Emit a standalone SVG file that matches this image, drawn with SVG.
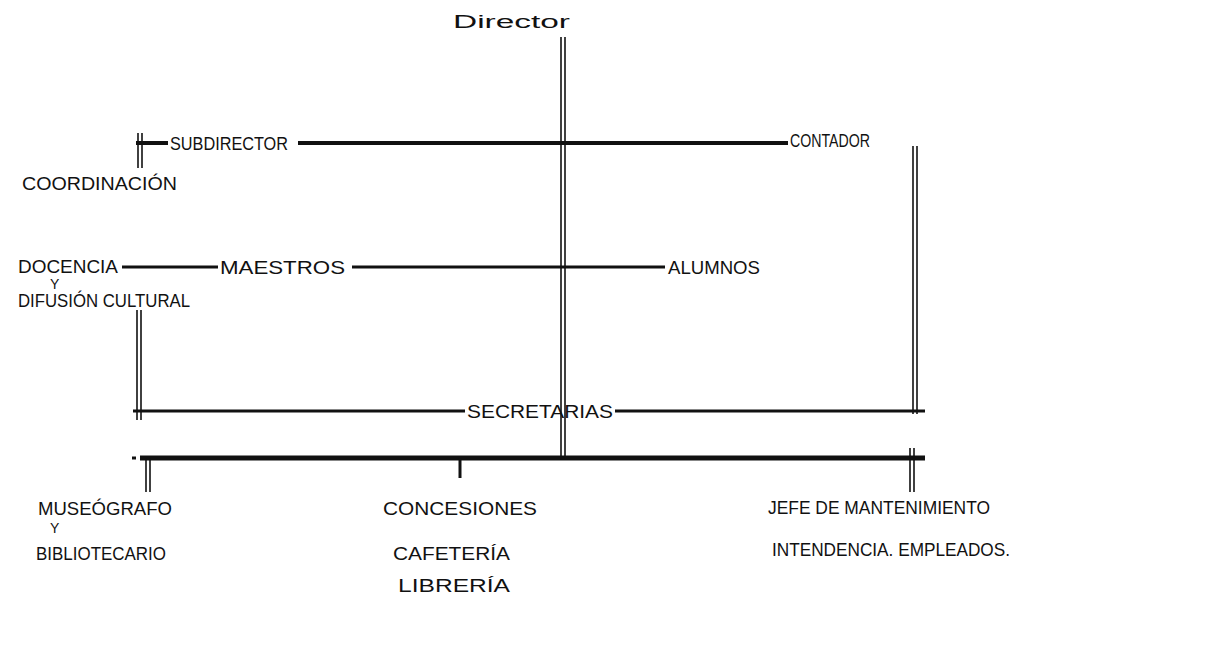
<svg xmlns="http://www.w3.org/2000/svg" width="1216" height="655" viewBox="0 0 1216 655">
<style>
.t{font-family:"Liberation Sans","DejaVu Sans",sans-serif;font-size:18px;fill:#111;}
.s{font-size:14px;}
.h{stroke:#111;fill:none;stroke-linecap:butt;}
.thick{stroke-width:4;}
.mid{stroke-width:3;}
.thin{stroke-width:1.6;}
</style>
<rect width="1216" height="655" fill="#fff"/>
<g id="connectors" class="h">
  <!-- trunk -->
  <line class="thin" x1="561" y1="37" x2="561" y2="458"/>
  <line class="thin" x1="565" y1="37" x2="565" y2="458"/>
  <!-- subdirector row -->
  <line class="thin" x1="138" y1="133" x2="138" y2="168"/>
  <line class="thin" x1="142" y1="133" x2="142" y2="168"/>
  <line class="thick" x1="136" y1="143" x2="168" y2="143"/>
  <line class="thick" x1="298" y1="143" x2="788" y2="143"/>
  <!-- right vertical -->
  <line class="thin" x1="913" y1="146" x2="913" y2="414"/>
  <line class="thin" x1="917" y1="146" x2="917" y2="414"/>
  <!-- docencia row -->
  <line class="mid" x1="122" y1="267" x2="218" y2="267"/>
  <line class="mid" x1="352" y1="267" x2="665" y2="267"/>
  <!-- left vertical -->
  <line class="thin" x1="137" y1="310" x2="137" y2="420"/>
  <line class="thin" x1="141" y1="310" x2="141" y2="420"/>
  <!-- secretarias row -->
  <line class="mid" x1="133" y1="411" x2="465" y2="411"/>
  <line class="mid" x1="615" y1="411" x2="925" y2="411"/>
  <!-- bottom bar -->
  <line class="thick" x1="140" y1="458" x2="925" y2="458" style="stroke-width:5"/>
  <line class="mid" x1="132" y1="458" x2="136" y2="458"/>
  <line class="thin" x1="146" y1="458" x2="146" y2="492"/>
  <line class="thin" x1="150" y1="458" x2="150" y2="492"/>
  <line class="mid" x1="460" y1="458" x2="460" y2="478"/>
  <line class="thin" x1="910" y1="448" x2="910" y2="492"/>
  <line class="thin" x1="914" y1="448" x2="914" y2="492"/>
</g>
<g id="director"><text class="t" x="453" y="28" textLength="117" lengthAdjust="spacingAndGlyphs">Director</text></g>
<g id="subdirector"><text class="t" x="170" y="150" textLength="118" lengthAdjust="spacingAndGlyphs">SUBDIRECTOR</text></g>
<g id="contador"><text class="t" x="790" y="147" textLength="80" lengthAdjust="spacingAndGlyphs">CONTADOR</text></g>
<g id="coordinacion"><text class="t" x="22" y="190" textLength="155" lengthAdjust="spacingAndGlyphs">COORDINACIÓN</text></g>
<g id="docencia">
  <text class="t" x="18" y="273" textLength="100" lengthAdjust="spacingAndGlyphs">DOCENCIA</text>
  <text class="t s" x="50" y="289">Y</text>
  <text class="t" x="18" y="307" textLength="172" lengthAdjust="spacingAndGlyphs">DIFUSIÓN CULTURAL</text>
</g>
<g id="maestros"><text class="t" x="220" y="274" textLength="125" lengthAdjust="spacingAndGlyphs">MAESTROS</text></g>
<g id="alumnos"><text class="t" x="668" y="274" textLength="92" lengthAdjust="spacingAndGlyphs">ALUMNOS</text></g>
<g id="secretarias"><text class="t" x="467" y="418" textLength="146" lengthAdjust="spacingAndGlyphs">SECRETARIAS</text></g>
<g id="museografo">
  <text class="t" x="38" y="515" textLength="134" lengthAdjust="spacingAndGlyphs">MUSEÓGRAFO</text>
  <text class="t s" x="50" y="533">Y</text>
  <text class="t" x="36" y="560" textLength="130" lengthAdjust="spacingAndGlyphs">BIBLIOTECARIO</text>
</g>
<g id="concesiones">
  <text class="t" x="383" y="515" textLength="154" lengthAdjust="spacingAndGlyphs">CONCESIONES</text>
  <text class="t" x="393" y="560" textLength="117" lengthAdjust="spacingAndGlyphs">CAFETERÍA</text>
  <text class="t" x="398" y="592" textLength="112" lengthAdjust="spacingAndGlyphs">LIBRERÍA</text>
</g>
<g id="mantenimiento">
  <text class="t" x="768" y="514" textLength="222" lengthAdjust="spacingAndGlyphs">JEFE DE MANTENIMIENTO</text>
  <text class="t" x="772" y="556" textLength="238" lengthAdjust="spacingAndGlyphs">INTENDENCIA. EMPLEADOS.</text>
</g>
</svg>
